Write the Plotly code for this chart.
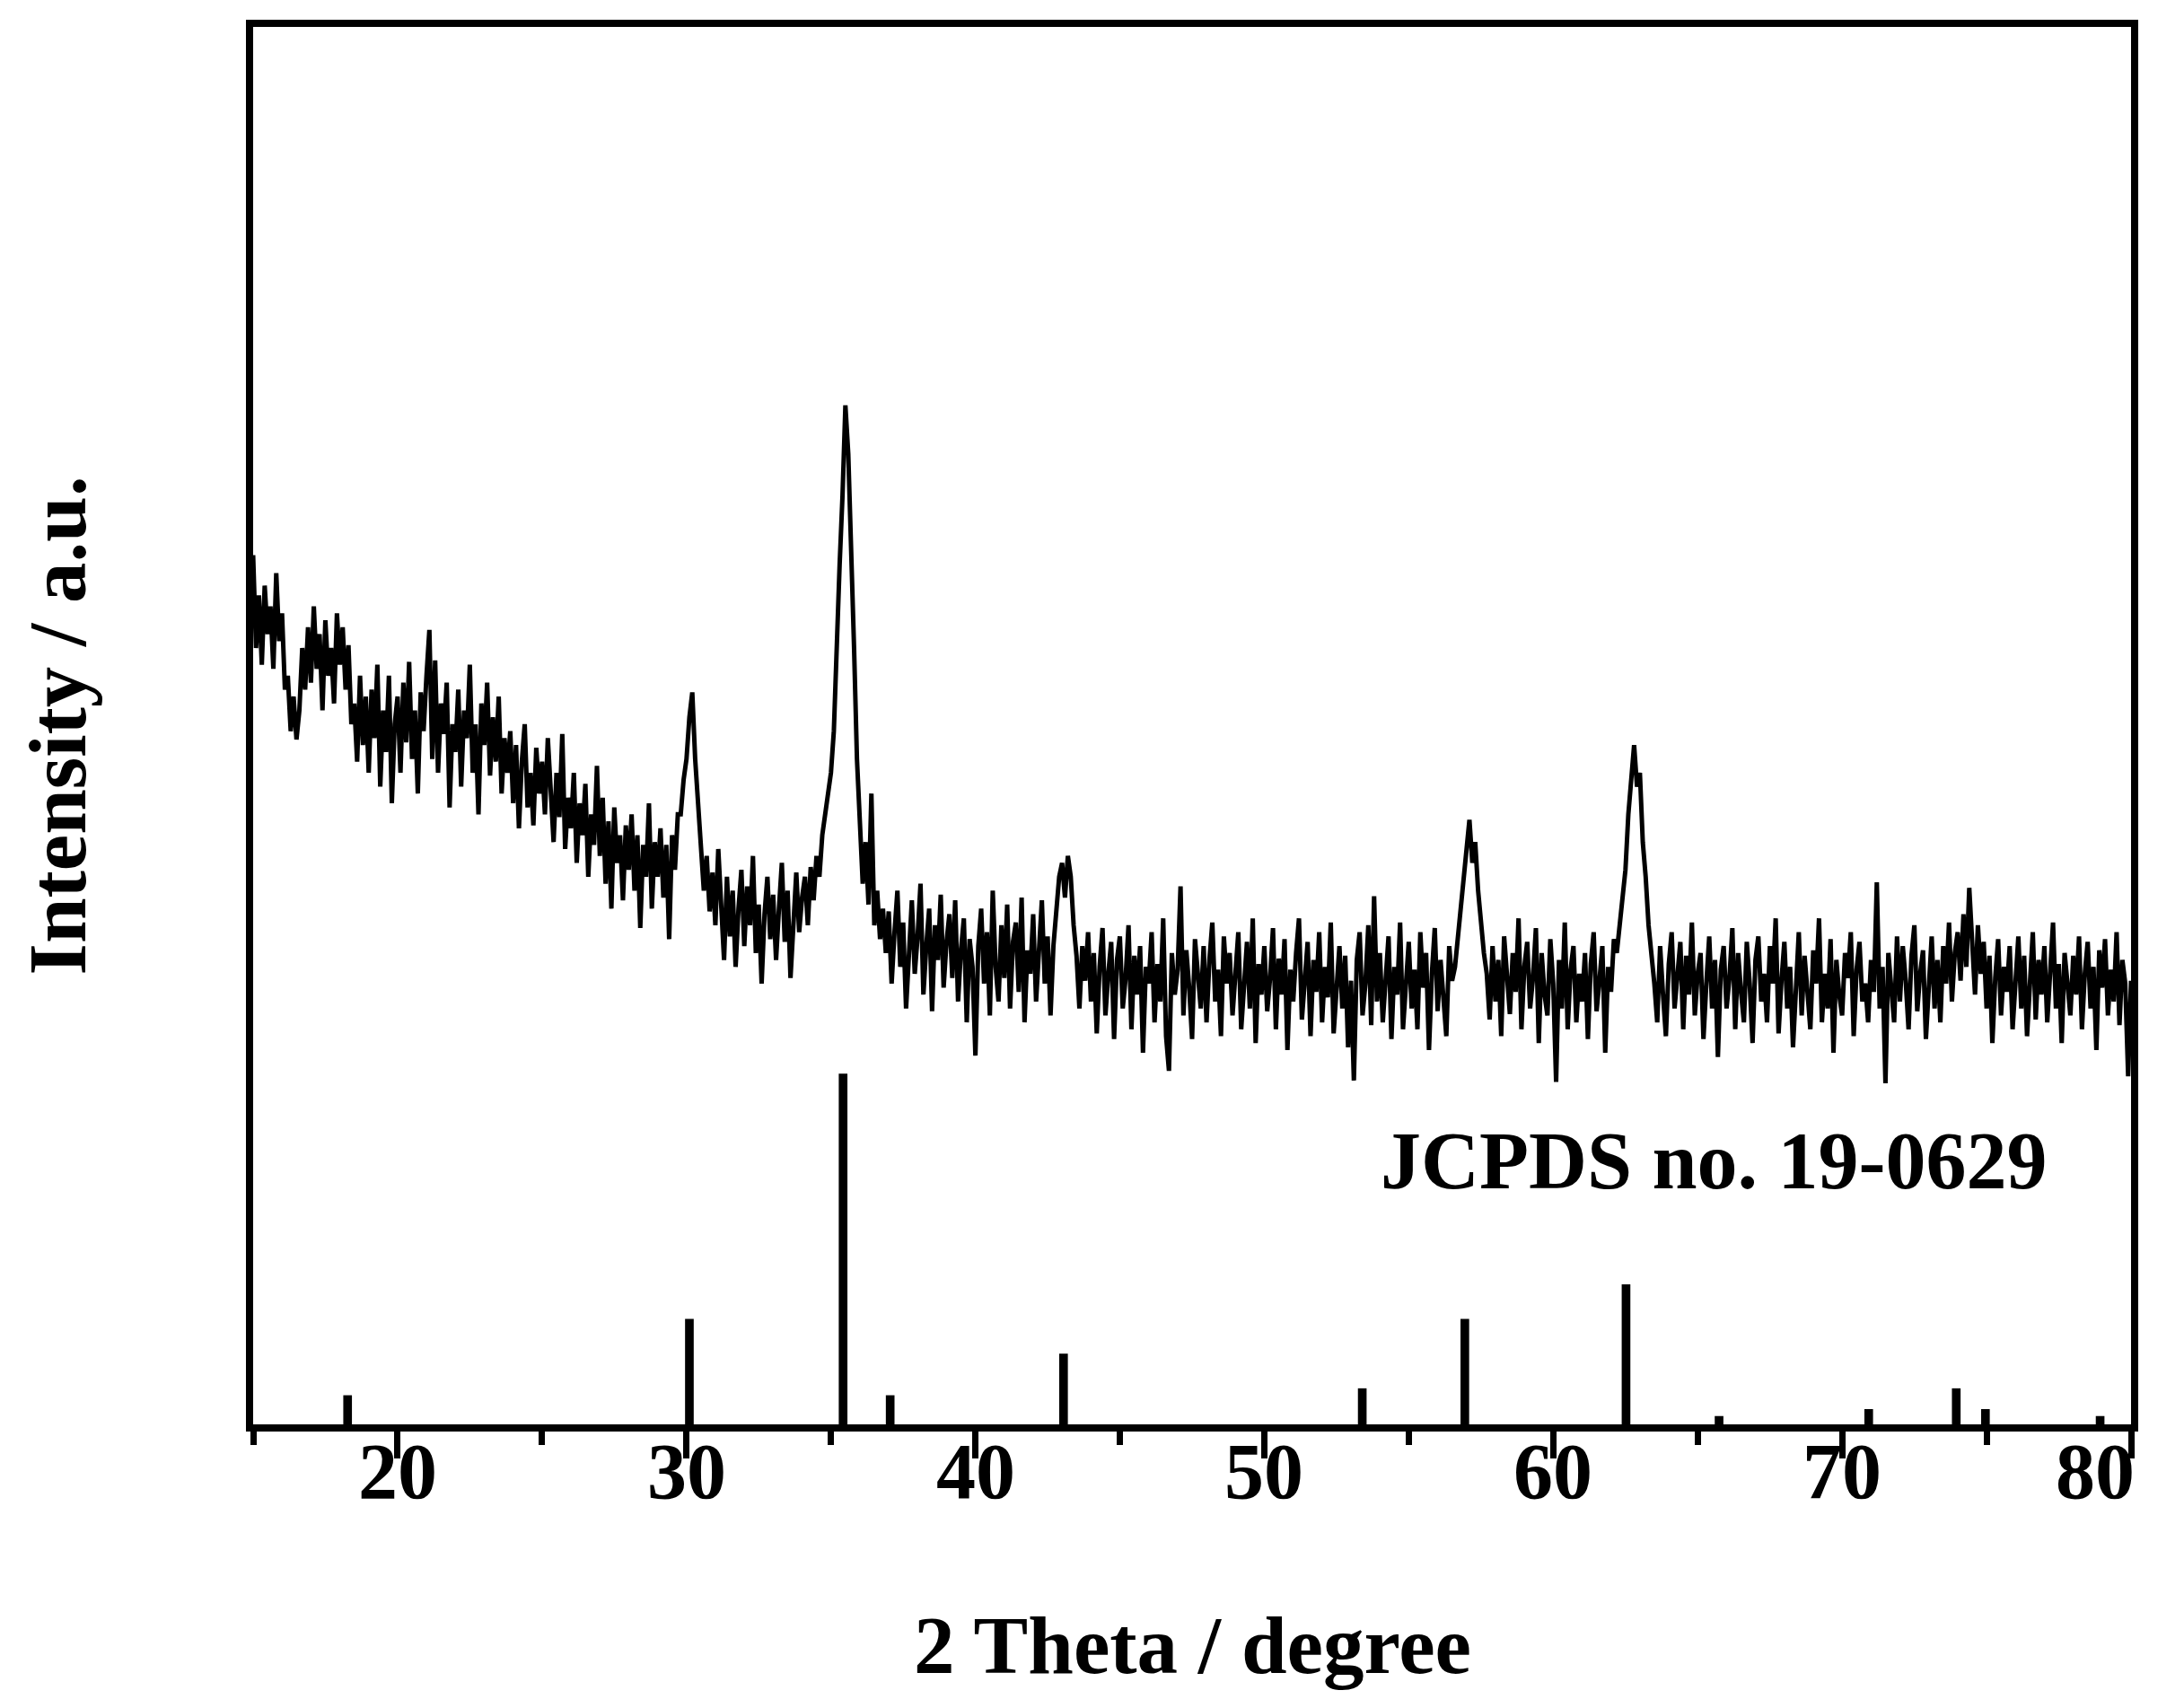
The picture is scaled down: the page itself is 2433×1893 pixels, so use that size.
import numpy as np
import plotly.graph_objects as go

# measured XRD pattern, 15-80 deg, one reading every 0.1 deg (a.u.)
two_theta_start = 15.0
two_theta_step = 0.1
intensity = [
    627, 560, 598, 548, 605, 570, 590, 545, 614, 565,
    585, 530, 540, 500, 525, 494, 515, 560, 530, 575,
    535, 590, 545, 570, 515, 580, 540, 560, 520, 585,
    548, 575, 530, 562, 505, 520, 478, 540, 490, 525,
    470, 530, 495, 548, 460, 515, 485, 540, 448, 505,
    525, 470, 535, 492, 550, 480, 515, 455, 528, 500,
    540, 573, 480, 551, 470, 520, 498, 535, 445, 505,
    485, 530, 460, 515, 495, 548, 470, 505, 440, 520,
    490, 535, 468, 510, 478, 525, 455, 495, 470, 500,
    448, 490, 430, 478, 505, 445, 470, 432, 488, 455,
    478, 440, 495, 458, 420, 470, 438, 498, 415, 452,
    430, 470, 405, 448, 425, 462, 395, 440, 418, 475,
    410, 452, 390, 435, 372, 445, 405, 425, 378, 432,
    400, 440, 385, 425, 358, 418, 395, 448, 372, 420,
    395, 430, 380, 418, 350, 425, 400, 440, 440, 465,
    480, 510, 528, 480, 450, 420, 385, 410, 370, 398,
    360, 415, 380, 335, 395, 352, 385, 330, 372, 400,
    345, 388, 360, 410, 340, 375, 318, 368, 395, 350,
    382, 335, 372, 405, 348, 385, 322, 362, 398, 355,
    380, 395, 360, 402, 378, 410, 395, 425, 440, 455,
    470, 500, 570, 620, 670, 735, 700, 640, 560, 480,
    440, 390, 420, 375, 455, 360, 385, 350, 372, 340,
    370, 318, 355, 385, 330, 362, 300, 348, 378, 325,
    352, 390, 310, 345, 372, 298, 360, 335, 382, 315,
    348, 368, 322, 378, 305, 342, 365, 290, 350, 330,
    266, 345, 372, 318, 355, 295, 385, 330, 305, 360,
    322, 375, 300, 348, 362, 312, 380, 290, 342, 325,
    368, 305, 345, 378, 318, 352, 295, 345, 370, 395,
    405, 380, 410, 395, 360, 338, 300, 345, 320, 355,
    305, 340, 282, 330, 358, 295, 325, 348, 278, 335,
    352, 300, 322, 360, 285, 338, 310, 345, 268, 330,
    318, 355, 290, 332, 305, 365, 280, 255, 340, 310,
    328, 388, 295, 342, 315, 278, 350, 322, 300, 345,
    290, 335, 362, 305, 328, 280, 352, 318, 340, 295,
    330, 355, 285, 320, 348, 300, 365, 275, 332, 310,
    345, 298, 322, 358, 285, 336, 310, 350, 270, 328,
    305, 340, 365, 292, 325, 348, 280, 335, 312, 355,
    290, 330, 308, 362, 282, 320, 345, 300, 338, 272,
    320, 248, 335, 355, 295, 318, 360, 288, 381, 305,
    340, 290, 325, 352, 278, 330, 310, 362, 285, 322,
    348, 300, 328, 285, 355, 315, 340, 270, 325, 358,
    298, 335, 310, 280, 345, 320, 330, 350, 372, 395,
    410, 436, 405, 420, 385, 360, 340, 325, 292, 345,
    305, 335, 280, 352, 318, 296, 340, 312, 365, 285,
    330, 348, 300, 322, 358, 275, 340, 310, 295, 350,
    318, 247, 335, 300, 362, 285, 328, 345, 290, 325,
    305, 340, 278, 332, 355, 298, 320, 345, 268, 330,
    312, 350, 340, 360, 385, 400, 440, 470, 490, 460,
    470, 420, 395, 360, 340, 318, 290, 345, 310, 280,
    332, 355, 300, 322, 348, 285, 338, 310, 362, 295,
    325, 340, 278, 318, 352, 300, 335, 265, 328, 345,
    300, 322, 358, 285, 340, 312, 290, 348, 318, 275,
    335, 352, 305, 325, 290, 345, 318, 365, 282, 320,
    348, 300, 330, 272, 318, 355, 295, 338, 312, 285,
    342, 318, 365, 290, 325, 300, 350, 268, 335, 310,
    295, 340, 322, 355, 280, 328, 348, 305, 318, 290,
    335, 312, 391, 300, 330, 246, 340, 318, 290, 352,
    305, 345, 320, 285, 338, 360, 298, 325, 342, 278,
    320, 352, 300, 335, 290, 345, 318, 362, 305, 340,
    355, 320, 368, 330, 387, 345, 310, 360, 325, 348,
    300, 338, 275, 322, 350, 295, 330, 312, 345, 285,
    325, 352, 300, 338, 280, 318, 355, 292, 335, 310,
    345, 290, 325, 362, 300, 332, 275, 340, 318, 295,
    338, 310, 352, 285, 325, 348, 300, 330, 270, 342,
    315, 350, 295, 328, 305, 355, 288, 335, 318, 251,
    320,
]

# JCPDS no. 19-0629 reference lines
card_pos = [18.27, 30.10, 35.42, 37.05, 43.05, 53.39, 56.94, 62.52, 65.74, 70.92, 73.95, 74.96, 78.93]
card_height = [21, 76, 253, 21, 51, 26, 76, 101, 6, 11, 26, 11, 6]

tick_vals = [20, 30, 40, 50, 60, 70, 80]
tick_text = ["20", "30", "40", "50", "60", "70", "80"]

two_theta = np.round(two_theta_start + two_theta_step * np.arange(len(intensity)), 2)

FONT = "Liberation Serif"
BOLD = dict(family=FONT, color="black", weight="bold")

fig = go.Figure()
fig.add_trace(go.Bar(x=card_pos, y=card_height, width=0.3,
                     marker=dict(color="black", line=dict(width=0))))
fig.add_trace(go.Scatter(x=two_theta, y=intensity, mode="lines",
                         line=dict(color="black", width=5)))

fig.add_annotation(x=53.95, y=190, xref="x", yref="y", text="JCPDS no. 19-0629",
                   showarrow=False, xanchor="left", yanchor="middle",
                   font=dict(size=90, **BOLD))

# tick labels as annotations (the last one sits pulled in from the frame edge)
for v, t in zip(tick_vals, tick_text):
    last = v == tick_vals[-1]
    fig.add_annotation(x=v, y=0, xref="x", yref="paper", text=t, showarrow=False,
                       xanchor="right" if last else "center", yanchor="middle",
                       xshift=6 if last else 0, yshift=-52,
                       font=dict(size=88, **BOLD))

fig.add_annotation(x=0.5, y=0, xref="paper", yref="paper", text="2 Theta / degree",
                   showarrow=False, xanchor="center", yanchor="middle", yshift=-246,
                   font=dict(size=91, **BOLD))
fig.add_annotation(x=0, y=0.5, xref="paper", yref="paper", text="Intensity / a.u.",
                   showarrow=False, xanchor="center", yanchor="middle", xshift=-218,
                   textangle=-90, font=dict(size=91, **BOLD))

fig.update_xaxes(range=[15, 80], dtick=10, tick0=0, ticks="outside", ticklen=30, tickwidth=7,
                 tickcolor="black", showticklabels=False,
                 showline=True, linewidth=8, linecolor="black", mirror=True,
                 showgrid=False, zeroline=False,
                 minor=dict(dtick=5, tick0=0, ticks="outside", ticklen=15, tickwidth=7,
                            tickcolor="black", showgrid=False))
fig.update_yaxes(range=[0, 1008], showticklabels=False, ticks="", showline=True, linewidth=8,
                 linecolor="black", mirror=True, showgrid=False, zeroline=False)

fig.update_layout(width=2433, height=1893, showlegend=False,
                  paper_bgcolor="white", plot_bgcolor="white",
                  margin=dict(l=274, r=67, t=22, b=314, autoexpand=False))

fig.write_html("out.html")
